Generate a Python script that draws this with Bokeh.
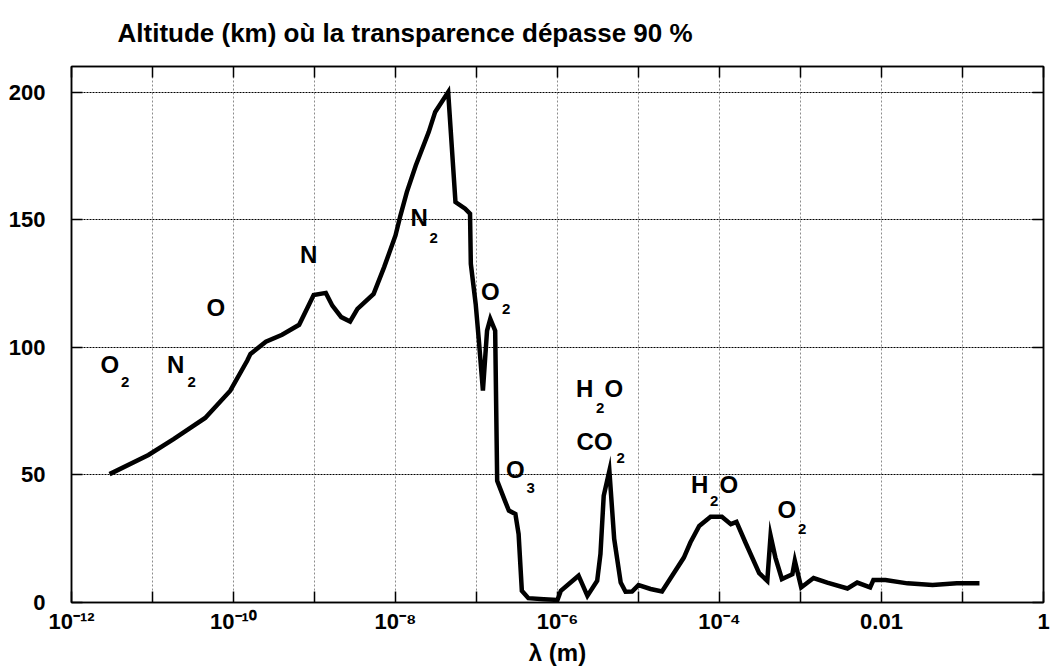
from bokeh.plotting import figure
from bokeh.models import Range1d, LogAxis, LinearAxis, FixedTicker, ColumnDataSource, Title
from bokeh.embed import file_html
from bokeh.resources import INLINE
from bokeh.core.properties import value

# ---------------- data ----------------
wavelength_m = [
    2.95e-12, 8.91e-12, 1.82e-11, 4.47e-11, 9.12e-11, 1.48e-10, 1.62e-10, 2.51e-10,
    3.98e-10, 6.46e-10, 9.77e-10, 1.38e-9, 1.66e-9, 2.14e-9, 2.75e-9, 3.39e-9,
    5.37e-9, 7.24e-9, 1.00e-8, 1.15e-8, 1.38e-8, 1.78e-8, 2.57e-8, 3.09e-8,
    4.47e-8, 5.50e-8, 7.24e-8, 8.32e-8, 8.51e-8, 9.77e-8, 1.07e-7, 1.20e-7,
    1.35e-7, 1.48e-7, 1.70e-7, 1.80e-7, 2.24e-7, 2.51e-7, 3.02e-7, 3.31e-7,
    3.63e-7, 4.37e-7, 6.76e-7, 1.00e-6, 1.10e-6, 1.45e-6, 1.82e-6, 2.34e-6,
    3.09e-6, 3.39e-6, 3.72e-6, 4.37e-6, 5.01e-6, 6.03e-6, 6.92e-6, 8.32e-6,
    1.00e-5, 1.41e-5, 1.95e-5, 3.63e-5, 4.37e-5, 5.62e-5, 7.76e-5, 1.07e-4,
    1.38e-4, 1.62e-4, 2.09e-4, 3.09e-4, 3.89e-4, 4.27e-4, 4.90e-4, 5.89e-4,
    7.94e-4, 8.51e-4, 9.33e-4, 1.02e-3, 1.45e-3, 2.14e-3, 3.80e-3, 5.01e-3,
    7.24e-3, 7.94e-3, 1.12e-2, 2.09e-2, 4.27e-2, 8.51e-2, 0.162,
]
altitude_km = [
    50.3, 57.8, 64.0, 72.3, 83.0, 94.8, 97.4, 102.2,
    104.9, 108.8, 120.5, 121.3, 116.3, 111.8, 110.1, 115.0,
    120.9, 131.4, 143.8, 151.6, 160.8, 171.2, 184.3, 192.2,
    200.0, 156.9, 154.3, 152.3, 132.7, 117.0, 102.6, 83.0,
    106.5, 111.1, 106.5, 47.7, 39.9, 36.0, 34.7, 26.8,
    4.6, 1.7, 1.3, 1.0, 4.6, 7.8, 10.5, 2.6,
    8.5, 19.0, 41.8, 51.6, 24.9, 7.8, 4.2, 4.3,
    6.8, 5.3, 4.3, 17.6, 23.5, 30.0, 33.6, 33.6,
    30.7, 31.6, 23.5, 11.5, 8.5, 26.2, 17.6, 9.2,
    11.1, 16.4, 11.1, 5.9, 9.6, 7.8, 5.5, 7.8,
    5.9, 8.8, 8.8, 7.5, 6.9, 7.5, 7.5,
]

# absorbing species labels (main letters and subscripts)
species_text = ["O", "N", "O", "N", "N", "O", "O", "H", "O", "CO", "H", "O", "O"]
species_x = [2.28e-12, 1.51e-11, 4.65e-11, 6.62e-10, 1.53e-8, 1.14e-7, 2.31e-7,
             1.69e-6, 3.80e-6, 1.72e-6, 4.45e-5, 1.00e-4, 5.20e-4]
species_y = [93.2, 93.2, 115.4, 136.4, 150.7, 121.8, 52.0, 84.0, 84.0, 63.0, 46.4, 46.4, 36.5]

sub_text = ["2", "2", "2", "2", "3", "2", "2", "2", "2"]
sub_x = [4.08e-12, 2.70e-11, 2.63e-8, 2.07e-7, 4.14e-7, 2.99e-6, 5.35e-6, 7.64e-5, 9.31e-4]
sub_y = [86.2, 86.2, 143.0, 114.8, 45.0, 76.2, 56.5, 39.9, 28.9]

x_ticks = [1e-12, 1e-11, 1e-10, 1e-9, 1e-8, 1e-7, 1e-6, 1e-5, 1e-4, 1e-3, 1e-2, 1e-1, 1.0]
x_tick_js_keys = ["1e-12", "1e-11", "1e-10", "1e-9", "1e-8", "1e-7", "0.000001",
                  "0.00001", "0.0001", "0.001", "0.01", "0.1", "1"]
x_tick_labels = ["10⁻¹²", "", "10⁻¹⁰", "", "10⁻⁸", "", "10⁻⁶", "", "10⁻⁴", "", "0.01", "", "1"]
y_ticks = [0, 50, 100, 150, 200]

title_text = "Altitude (km) où la transparence dépasse 90 %"
xlabel_text = "λ (m)"

FONT = "Liberation Sans"

# ---------------- figure ----------------
p = figure(width=1052, height=668, x_axis_type="log",
           x_range=Range1d(1e-12, 1.0), y_range=Range1d(0, 210),
           output_backend="svg", toolbar_location=None,
           min_border_left=71, min_border_right=9, min_border_top=66, min_border_bottom=66)
p.background_fill_color = "white"
p.border_fill_color = "white"
p.outline_line_color = "black"
p.outline_line_width = 1.5

xt = FixedTicker(ticks=x_ticks)
yt = FixedTicker(ticks=y_ticks)

def style_axis(ax, labels):
    ax.axis_line_color = "black"
    ax.axis_line_width = 1.5
    ax.major_tick_in = 11
    ax.major_tick_out = 0
    ax.major_tick_line_color = "black"
    ax.major_tick_line_width = 1.5
    ax.minor_tick_line_color = None
    if labels:
        ax.major_label_text_font = FONT
        ax.major_label_text_font_style = "bold"
        ax.major_label_text_font_size = "22px"
        ax.major_label_text_color = "black"
    else:
        ax.major_label_text_font_size = "0px"
        ax.major_label_standoff = 0

overrides = {}
for t, k, s in zip(x_ticks, x_tick_js_keys, x_tick_labels):
    overrides[t] = s
    overrides[k] = s

bx = p.xaxis[0]
bx.ticker = xt
style_axis(bx, True)
bx.major_label_overrides = overrides
bx.major_label_standoff = 6
bx.axis_label = xlabel_text
bx.axis_label_text_font = FONT
bx.axis_label_text_font_style = "bold"
bx.axis_label_text_font_size = "24px"
bx.axis_label_text_color = "black"
bx.axis_label_standoff = 2

ly = p.yaxis[0]
ly.ticker = yt
style_axis(ly, True)
ly.major_label_standoff = 26

tx = LogAxis(ticker=xt)
style_axis(tx, False)
tx.major_label_overrides = {t: "" for t in x_ticks}
p.add_layout(tx, "above")

ry = LinearAxis(ticker=yt)
style_axis(ry, False)
ry.major_label_overrides = {t: "" for t in y_ticks}
p.add_layout(ry, "right")

p.title = Title(text=title_text, align="left", vertical_align="top", offset=46, standoff=34,
                text_font=FONT, text_font_style="bold", text_font_size="26px",
                text_color="black")

p.xgrid.ticker = xt
p.xgrid.grid_line_color = "#8c8c8c"
p.xgrid.grid_line_dash = "2 2"
p.xgrid.grid_line_width = 1
p.ygrid.ticker = yt
p.ygrid.grid_line_color = "black"
p.ygrid.grid_line_dash = "2 1"
p.ygrid.grid_line_width = 1.2

# curve
p.line(wavelength_m, altitude_km, line_color="black", line_width=4.5, line_join="miter")

# species labels
src_main = ColumnDataSource(dict(x=species_x, y=species_y, t=species_text))
p.text(x="x", y="y", text="t", source=src_main, text_font=value(FONT),
       text_font_style="bold", text_font_size="24px", text_color="black",
       text_align="left", text_baseline="middle")
src_sub = ColumnDataSource(dict(x=sub_x, y=sub_y, t=sub_text))
p.text(x="x", y="y", text="t", source=src_sub, text_font=value(FONT),
       text_font_style="bold", text_font_size="15px", text_color="black",
       text_align="left", text_baseline="middle")

open("out.html", "w").write(file_html(p, INLINE))
